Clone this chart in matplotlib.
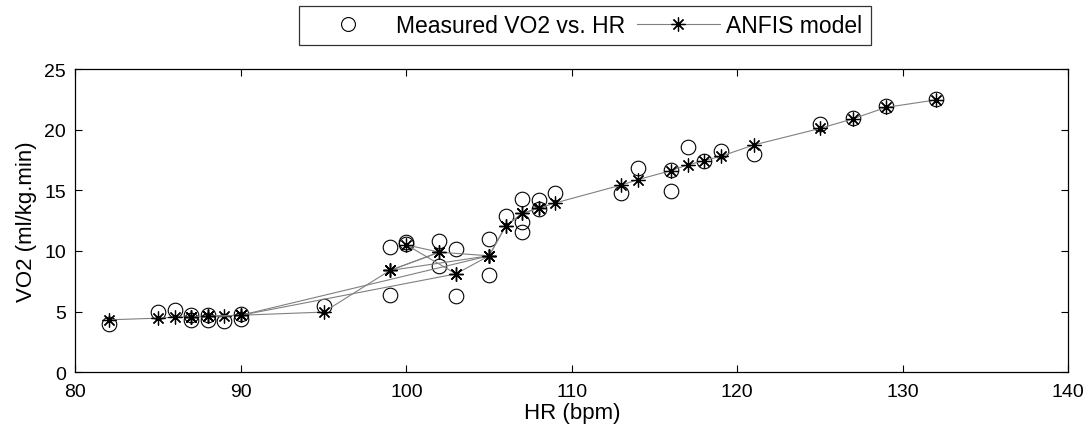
import matplotlib
matplotlib.use("Agg")
import matplotlib.pyplot as plt
from matplotlib.lines import Line2D

plt.rcParams['font.family'] = ['Liberation Sans', 'DejaVu Sans']

# ===== DATA =====
# measured VO2 vs HR (circles)
meas_hr = [82, 85, 86, 87, 87, 88, 88, 89, 90, 90, 95, 99, 99, 100, 100,
           102, 102, 103, 103, 105, 105, 106, 107, 107, 107, 108, 108, 109,
           113, 114, 116, 116, 117, 118, 119, 121, 125, 127, 129, 132]
meas_vo2 = [3.94, 5.0, 5.15, 4.68, 4.27, 4.68, 4.27, 4.19, 4.8, 4.4, 5.45,
            10.31, 6.33, 10.72, 10.58, 10.86, 8.8, 10.17, 6.25, 11.0, 7.98,
            12.92, 14.29, 12.37, 11.55, 14.23, 13.47, 14.79, 14.79, 16.82,
            16.71, 14.92, 18.6, 17.45, 18.27, 18.0, 20.47, 20.94, 21.98, 22.5]

# ANFIS model output per HR
model_hr = [82, 85, 86, 87, 88, 89, 90, 95, 99, 100, 102, 103, 105, 106, 107,
            108, 109, 113, 114, 116, 117, 118, 119, 121, 125, 127, 129, 132]
model_vo2 = [4.32, 4.46, 4.54, 4.56, 4.6, 4.66, 4.7, 4.96, 8.39, 10.5, 9.9,
             8.11, 9.6, 12.04, 13.1, 13.53, 13.96, 15.44, 15.88, 16.63, 17.09,
             17.45, 17.8, 18.74, 20.1, 20.9, 21.84, 22.45]

# order in which the model points were joined (data order)
model_runs = [
    [82, 85, 86, 87, 88, 89, 90, 95, 99, 102, 100, 103, 105, 106, 107, 108,
     109, 113, 114, 116, 117, 118, 119, 121, 125, 127, 129, 132],
    [87, 88, 90, 103],
    [87, 88, 90, 105, 106, 107, 108],
    [99, 102, 105],
    [99, 105],
]

# ===== PLOT =====
fig = plt.figure(figsize=(10.91, 4.35), dpi=100)
ax = fig.add_axes([0.0692, 0.142, 0.9098, 0.697])

lookup = dict(zip(model_hr, model_vo2))
star = (8, 2, 0)

ax.plot(meas_hr, meas_vo2, linestyle='none', marker='o', markersize=10.5,
        markerfacecolor='none', markeredgecolor='k', markeredgewidth=0.8)
for run in model_runs:
    ax.plot(run, [lookup[h] for h in run], color='#808080', linewidth=0.8,
            marker=star, markersize=10, markeredgecolor='k',
            markeredgewidth=0.9)

ax.set_xlim(80, 140)
ax.set_ylim(0, 25)
ax.set_xticks(range(80, 141, 10))
ax.set_yticks(range(0, 26, 5))
ax.tick_params(direction='in', top=True, right=True, length=5,
               labelsize=14, width=0.8)
ax.tick_params(axis='x', pad=8)
ax.tick_params(axis='y', pad=7)
for s in ax.spines.values():
    s.set_linewidth(0.9)
ax.set_xlabel("HR (bpm)", fontsize=16, labelpad=1)
ax.set_ylabel("VO2 (ml/kg.min)", fontsize=16, labelpad=5)

handles = [
    Line2D([], [], linestyle='none', marker='o', markersize=10,
           markerfacecolor='none', markeredgecolor='k', markeredgewidth=0.8),
    Line2D([], [], color='#808080', linewidth=0.8, marker=star, markersize=10,
           markeredgecolor='k', markeredgewidth=0.9),
]
leg = fig.legend(handles, ["Measured VO2 vs. HR", "ANFIS model"], ncol=2,
                 loc='center', bbox_to_anchor=(0.536, 0.938), fontsize=16.5,
                 frameon=True, fancybox=False, edgecolor='k',
                 handlelength=3.6, handletextpad=0.3, columnspacing=0.5,
                 borderpad=0.35)
leg.get_frame().set_linewidth(0.9)

fig.savefig("out.png", dpi=100)
